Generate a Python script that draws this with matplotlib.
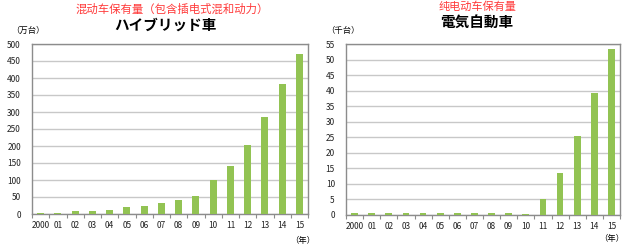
import matplotlib
matplotlib.use("Agg")
import matplotlib.pyplot as plt
import numpy as np

years = ["2000", "01", "02", "03", "04", "05", "06", "07", "08", "09", "10", "11", "12", "13", "14", "15"]
hybrid = [4, 4, 8, 10, 13, 20, 25, 33, 42, 53, 99, 142, 203, 286, 383, 470]
ev = [0.7, 0.7, 0.7, 0.7, 0.7, 0.5, 0.5, 0.5, 0.5, 0.5, 0.3, 5.0, 13.5, 25.3, 39.1, 53.4]
hybrid_ticks = list(range(0, 501, 50))
ev_ticks = list(range(0, 56, 5))

W, H = 629, 248
fig = plt.figure(figsize=(W / 100, H / 100), dpi=100)
fig.patch.set_facecolor("white")

bar_color = "#92c353"
grid_color = "#c8c8c8"
spine_color = "#8c8c8c"
cjk_jp = ["Noto Sans CJK JP", "DejaVu Sans"]
cjk_sc = ["Noto Sans CJK SC", "DejaVu Sans"]


def make_ax(left, right, top, bottom, values, ticks, ymax):
    ax = fig.add_axes([left / W, (H - bottom) / H, (right - left) / W, (bottom - top) / H])
    x = np.arange(len(values))
    ax.bar(x, values, width=0.4, color=bar_color, zorder=3)
    ax.set_xlim(-0.5, len(values) - 0.5)
    ax.set_ylim(0, ymax)
    ax.set_yticks(ticks)
    ax.set_yticklabels([str(t) for t in ticks], fontsize=6, family=cjk_jp, color="#222222")
    ax.set_xticks(x)
    ax.set_xticklabels(years, fontsize=6, family=cjk_jp, color="#222222")
    ax.set_xticks(np.arange(-0.5, len(values), 1), minor=True)
    ax.tick_params(axis="x", which="major", length=0, pad=5)
    ax.tick_params(axis="x", which="minor", length=3, color=spine_color, width=0.8)
    ax.tick_params(axis="y", length=0, pad=8)
    ax.grid(axis="y", color=grid_color, linewidth=1, zorder=0)
    for s in ax.spines.values():
        s.set_color(spine_color)
        s.set_linewidth(1)
    return ax


make_ax(32, 308, 44, 214, hybrid, hybrid_ticks, 500)
make_ax(346, 620, 44, 215, ev, ev_ticks, 55)

# Titles
fig.text(172 / W, 1 - 9 / H, "混动车保有量（包含插电式混和动力）", color="#ff3b3b",
         fontsize=8.2, family=cjk_sc, ha="center", va="center")
fig.text(165 / W, 1 - 25 / H, "ハイブリッド車", color="black", fontsize=10.5,
         fontweight="bold", family=cjk_jp, ha="center", va="center")
fig.text(477 / W, 1 - 7 / H, "纯电动车保有量", color="#ff3b3b",
         fontsize=8, family=cjk_sc, ha="center", va="center")
fig.text(477 / W, 1 - 22 / H, "電気自動車", color="black", fontsize=10.5,
         fontweight="bold", family=cjk_jp, ha="center", va="center")

# Units
fig.text(11 / W, 1 - 30 / H, "（万台）", fontsize=6, family=cjk_jp, ha="left", va="center")
fig.text(326 / W, 1 - 30 / H, "（千台）", fontsize=6, family=cjk_jp, ha="left", va="center")
fig.text(303 / W, 1 - 240 / H, "（年）", fontsize=6, family=cjk_jp, ha="center", va="center")
fig.text(612 / W, 1 - 239 / H, "（年）", fontsize=6, family=cjk_jp, ha="center", va="center")

fig.savefig("out.png", dpi=100)
